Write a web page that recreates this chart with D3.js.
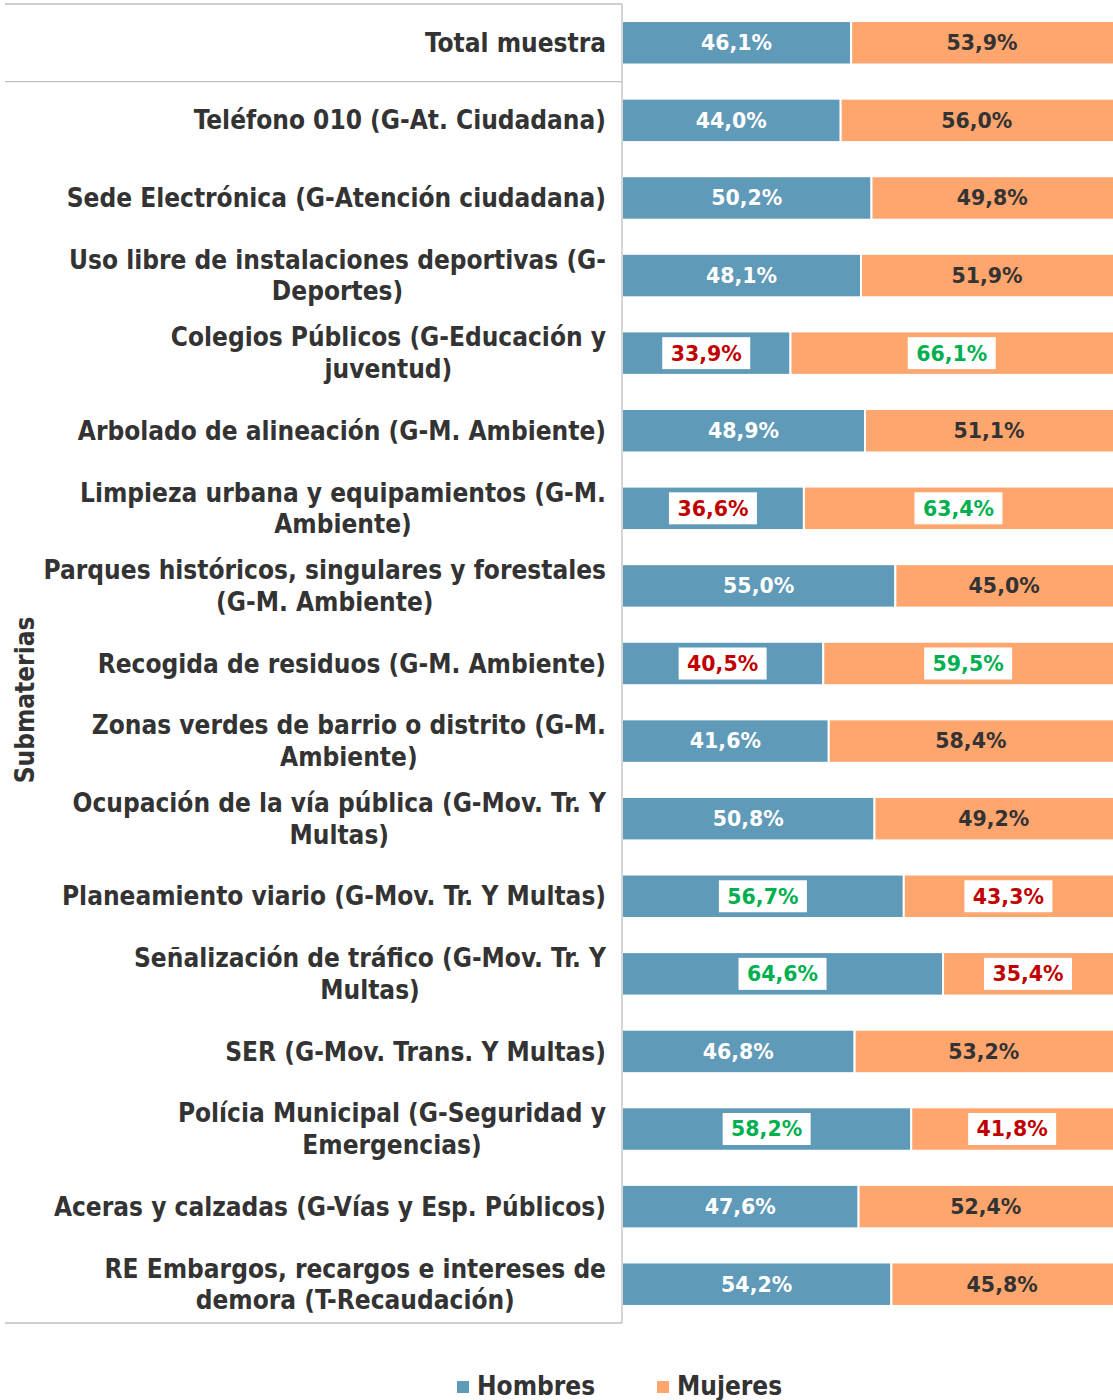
<!DOCTYPE html>
<html>
<head>
<meta charset="utf-8">
<script src="https://cdn.jsdelivr.net/npm/d3@7"></script>
<style>
  body { margin: 0; background: #fff; }
  svg { display: block; }
</style>
</head>
<body>
<div id="chart"></div>
<script>
// categories (line breaks as in the original)
const categories = [
  'Total muestra',
  'Teléfono 010 (G-At. Ciudadana)',
  'Sede Electrónica (G-Atención ciudadana)',
  'Uso libre de instalaciones deportivas (G-\nDeportes)',
  'Colegios Públicos (G-Educación y\njuventud)',
  'Arbolado de alineación (G-M. Ambiente)',
  'Limpieza urbana y equipamientos (G-M.\nAmbiente)',
  'Parques históricos, singulares y forestales\n(G-M. Ambiente)',
  'Recogida de residuos (G-M. Ambiente)',
  'Zonas verdes de barrio o distrito (G-M.\nAmbiente)',
  'Ocupación de la vía pública (G-Mov. Tr. Y\nMultas)',
  'Planeamiento viario (G-Mov. Tr. Y Multas)',
  'Señalización de tráfico (G-Mov. Tr. Y\nMultas)',
  'SER (G-Mov. Trans. Y Multas)',
  'Polícia Municipal (G-Seguridad y\nEmergencias)',
  'Aceras y calzadas (G-Vías y Esp. Públicos)',
  'RE Embargos, recargos e intereses de\ndemora (T-Recaudación)'
];
const hombres = [46.1, 44.0, 50.2, 48.1, 33.9, 48.9, 36.6, 55.0, 40.5, 41.6, 50.8, 56.7, 64.6, 46.8, 58.2, 47.6, 54.2];
const mujeres = [53.9, 56.0, 49.8, 51.9, 66.1, 51.1, 63.4, 45.0, 59.5, 58.4, 49.2, 43.3, 35.4, 53.2, 41.8, 52.4, 45.8];
// highlight of the Hombres value: 'low' (red), 'high' (green), '' none
const marks = ['', '', '', '', 'low', '', 'low', '', 'low', '', '', 'high', 'high', '', 'high', '', ''];
const seriesNames = ['Hombres', 'Mujeres'];

const width = 1113, height = 1400;
const colors = { Hombres: '#5f9ab8', Mujeres: '#ffa56e' };
const labelFont = "'DejaVu Sans Condensed', 'DejaVu Sans', sans-serif";
const valueFont = "'DejaVu Sans', sans-serif";

const svg = d3.select('#chart').append('svg')
  .attr('width', width).attr('height', height);

const axisX = 622, plotTop = 4, plotBottom = 1323;

const y = d3.scaleBand().domain(d3.range(categories.length)).range([plotTop, plotBottom]).paddingInner(0.44).paddingOuter(0.22);
const x = d3.scaleLinear().domain([0, 100]).range([axisX, 1119]);

// frame lines
const lineColor = '#bfbfbf';
const step = y.step();
[plotTop, plotTop + step, plotBottom].forEach(v => {
  svg.append('line').attr('x1', 5).attr('x2', axisX).attr('y1', v).attr('y2', v)
    .attr('stroke', lineColor).attr('stroke-width', 1.3);
});

// stacked data
const rows = categories.map((c, i) => ({ i, h: hombres[i], m: mujeres[i], mark: marks[i] }));

const g = svg.append('g');
rows.forEach(r => {
  const segs = [
    { key: 'Hombres', x0: 0, x1: r.h, v: r.h,
      mark: r.mark === 'low' ? 'red' : r.mark === 'high' ? 'green' : '' },
    { key: 'Mujeres', x0: r.h, x1: r.h + r.m, v: r.m,
      mark: r.mark === 'low' ? 'green' : r.mark === 'high' ? 'red' : '' }
  ];
  segs.forEach(s => {
    g.append('rect')
      .attr('x', x(s.x0)).attr('y', y(r.i))
      .attr('width', x(s.x1) - x(s.x0)).attr('height', y.bandwidth())
      .attr('fill', colors[s.key])
      .attr('stroke', '#fff').attr('stroke-width', 2);

    const cx = (x(s.x0) + Math.min(x(s.x1), width)) / 2;
    const cy = y(r.i) + y.bandwidth() / 2;
    const txt = s.v.toFixed(1).replace('.', ',') + '%';
    if (s.mark) {
      g.append('rect').attr('x', cx - 44).attr('y', cy - 16).attr('width', 88).attr('height', 32)
        .attr('fill', '#fff');
    }
    g.append('text')
      .attr('x', cx).attr('y', cy).attr('dy', '0.36em')
      .attr('text-anchor', 'middle')
      .attr('font-family', valueFont).attr('font-weight', 'bold').attr('font-size', 20.5)
      .attr('fill', s.mark === 'red' ? '#c00000' : s.mark === 'green' ? '#00b050' : (s.key === 'Hombres' ? '#fff' : '#333'))
      .text(txt);
  });
});

// axis line
svg.append('line').attr('x1', axisX).attr('x2', axisX).attr('y1', plotTop).attr('y2', plotBottom)
  .attr('stroke', lineColor).attr('stroke-width', 1.3);

// category labels: block right-aligned at 606, lines centred within the block
const lh = 31.5, labelRight = 606;
categories.forEach((c, i) => {
  const lines = c.split('\n');
  const cy = y(i) + y.bandwidth() / 2;
  const t = svg.append('text')
    .attr('font-family', labelFont).attr('font-weight', 'bold').attr('font-size', 26)
    .attr('fill', '#333').attr('text-anchor', 'middle');
  const spans = lines.map((ln, k) => t.append('tspan')
    .attr('y', cy + (k - (lines.length - 1) / 2) * lh).attr('dy', '0.35em')
    .text(ln));
  const maxW = d3.max(spans, sp => sp.node().getComputedTextLength());
  spans.forEach(sp => sp.attr('x', labelRight - maxW / 2));
});

// axis title
svg.append('text')
  .attr('transform', 'translate(34,700) rotate(-90)')
  .attr('text-anchor', 'middle')
  .attr('font-family', labelFont).attr('font-weight', 'bold').attr('font-size', 26)
  .attr('fill', '#333')
  .text('Submaterias');

// legend
const legend = svg.append('g');
const legendX = [457, 657];
seriesNames.forEach((s, i) => {
  legend.append('rect').attr('x', legendX[i]).attr('y', 1381).attr('width', 12).attr('height', 12)
    .attr('fill', colors[s]);
  legend.append('text').attr('x', legendX[i] + 20).attr('y', 1386).attr('dy', '0.35em')
    .attr('font-family', labelFont).attr('font-weight', 'bold').attr('font-size', 26)
    .attr('fill', '#333').text(s);
});
</script>
</body>
</html>
